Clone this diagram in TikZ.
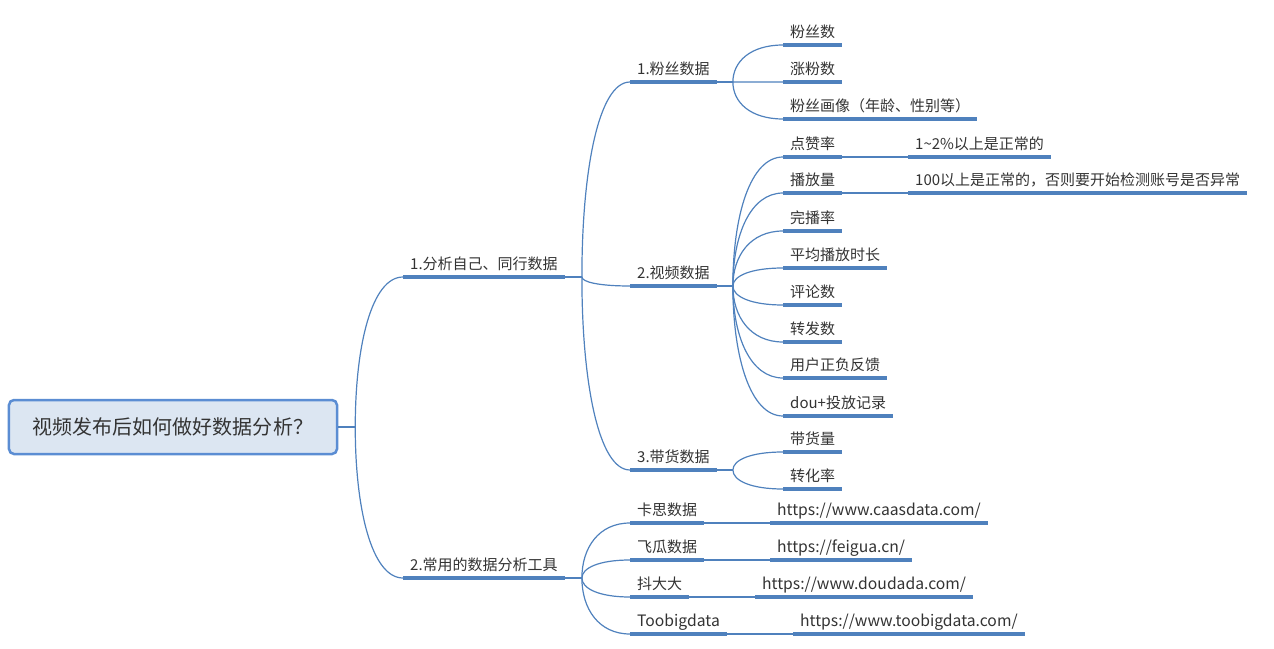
\documentclass[tikz,border=0pt]{standalone}
\usepackage{fontspec}
\setmainfont{Noto Sans CJK SC}
\usetikzlibrary{calc}
\definecolor{lineblue}{HTML}{4F81BD}
\definecolor{rootfill}{HTML}{DCE6F2}
\definecolor{rootdraw}{HTML}{5B8DD3}
\definecolor{txt}{HTML}{333333}
\tikzset{
  topic/.style={anchor=south west, inner xsep=7bp, inner ysep=7bp, text depth=0pt,
    text=txt, font=\fontsize{15bp}{18bp}\selectfont},
  latin/.style={font=\fontsize{15.7bp}{18bp}\selectfont},
  uline/.style={draw=lineblue, line width=4bp},
  link/.style={draw=lineblue, line width=1.2bp},
  rootbox/.style={draw=rootdraw, fill=rootfill, line width=2.5bp, rounded corners=5bp,
    minimum width=328bp, minimum height=54bp, text=txt, font=\fontsize{20bp}{24bp}\selectfont}
}
\newcommand\mmcurve[2]{\draw[link] (#1) .. controls ($(#1)!0.55!(#1 |- #2.south west)$) and ($(#1 |- #2.south west)!0.35!(#2.south west)$) .. (#2.south west);}
\newcommand\mmul[1]{\draw[uline] (#1.south west) -- (#1.south east);}
\begin{document}
\begin{tikzpicture}[x=1bp, y=-1bp]
\useasboundingbox (0,0) rectangle (1274,649);
% root
\node[rootbox] (root) at (173,427) {视频发布后如何做好数据分析？};
% main branches
\node[topic] (b1) at (403,277) {1.分析自己、同行数据};
\node[topic] (b2) at (403,578) {2.常用的数据分析工具};
% level 2
\node[topic] (c11) at (630,82) {1.粉丝数据};
\node[topic] (c12) at (630,286) {2.视频数据};
\node[topic] (c13) at (630,470) {3.带货数据};
% fans
\node[topic] (fa1) at (783,45) {粉丝数};
\node[topic] (fa2) at (783,82) {涨粉数};
\node[topic] (fa3) at (783,119) {粉丝画像（年龄、性别等）};
% video
\node[topic] (v1) at (783,157) {点赞率};
\node[topic] (v2) at (783,193) {播放量};
\node[topic] (v3) at (783,231) {完播率};
\node[topic] (v4) at (783,268) {平均播放时长};
\node[topic] (v5) at (783,305) {评论数};
\node[topic] (v6) at (783,342) {转发数};
\node[topic] (v7) at (783,378) {用户正负反馈};
\node[topic] (v8) at (783,416) {dou+投放记录};
\node[topic] (n1) at (908,157) {1\textasciitilde 2\%以上是正常的};
\node[topic] (n2) at (908,193) {100以上是正常的，否则要开始检测账号是否异常};
% goods
\node[topic] (g1) at (783,452) {带货量};
\node[topic] (g2) at (783,489) {转化率};
% tools
\node[topic] (t1) at (630,523) {卡思数据};
\node[topic] (t2) at (630,560) {飞瓜数据};
\node[topic] (t3) at (630,597) {抖大大};
\node[topic,latin] (t4) at (630,634) {Toobigdata};
\node[topic,latin] (u1) at (770,523) {https://www.caasdata.com/};
\node[topic,latin] (u2) at (770,560) {https://feigua.cn/};
\node[topic,latin] (u3) at (755,597) {https://www.doudada.com/};
\node[topic,latin] (u4) at (793,634) {https://www.toobigdata.com/};
% fork points
\coordinate (f0) at ($(root.east)+(17,0)$);
\coordinate (f1) at ($(b1.south east)+(17,0)$);
\coordinate (f2) at ($(b2.south east)+(17,0)$);
\coordinate (f11) at ($(c11.south east)+(16,0)$);
\coordinate (f12) at ($(c12.south east)+(16,0)$);
\coordinate (f13) at ($(c13.south east)+(16,0)$);
% connectors
\draw[link] (root.east) -- (f0);
\mmcurve{f0}{b1}
\mmcurve{f0}{b2}
\draw[link] (b1.south east) -- (f1);
\draw[link] (b2.south east) -- (f2);
\mmcurve{f1}{c11}
\mmcurve{f1}{c12}
\mmcurve{f1}{c13}
\draw[link] (c11.south east) -- (f11);
\draw[link] (c12.south east) -- (f12);
\draw[link] (c13.south east) -- (f13);
\foreach \n in {fa1,fa2,fa3} {\mmcurve{f11}{\n}}
\foreach \n in {v1,v2,v3,v4,v5,v6,v7,v8} {\mmcurve{f12}{\n}}
\foreach \n in {g1,g2} {\mmcurve{f13}{\n}}
\foreach \n in {t1,t2,t3,t4} {\mmcurve{f2}{\n}}
\draw[link] (v1.south east) -- (n1.south west);
\draw[link] (v2.south east) -- (n2.south west);
\draw[link] (t1.south east) -- (u1.south west);
\draw[link] (t2.south east) -- (u2.south west);
\draw[link] (t3.south east) -- (u3.south west);
\draw[link] (t4.south east) -- (u4.south west);
% underlines
\foreach \n in {b1,b2,c11,c12,c13,fa1,fa2,fa3,v1,v2,v3,v4,v5,v6,v7,v8,n1,n2,g1,g2,t1,t2,t3,t4,u1,u2,u3,u4} {\mmul{\n}}
\end{tikzpicture}
\end{document}
